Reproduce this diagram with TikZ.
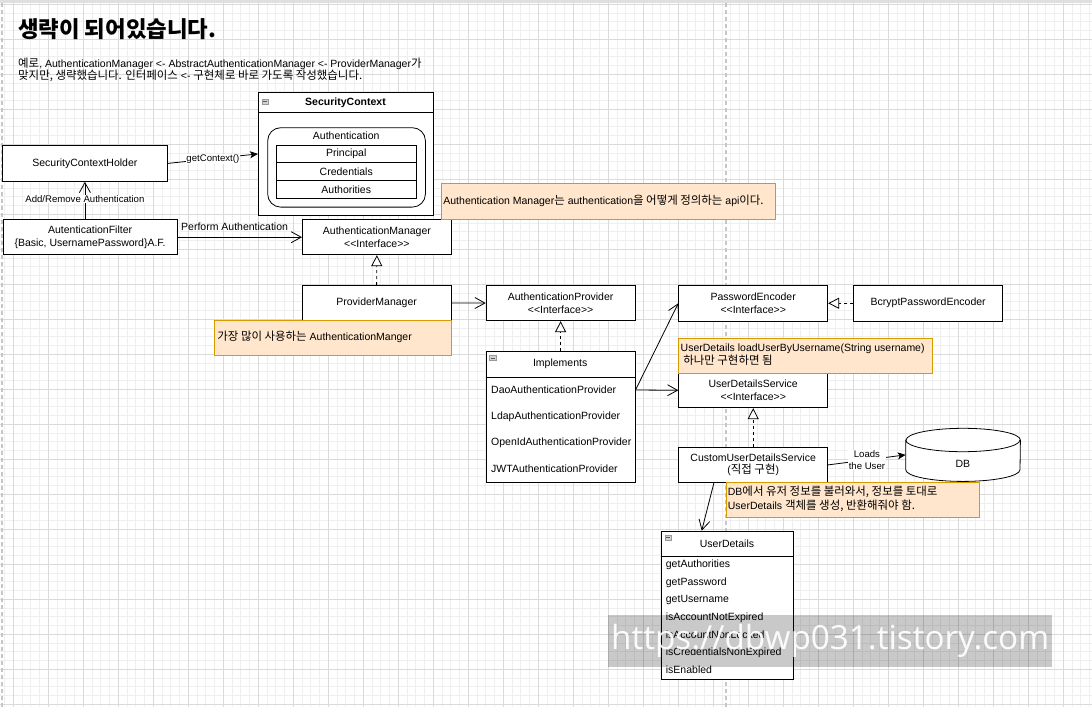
\documentclass[tikz,border=0pt]{standalone}
\usepackage{fontspec}
\newfontfamily\lsans{Liberation Sans}
\newfontfamily\kr{Noto Sans CJK KR}[Scale=1.09]
\newfontfamily\wmfont{Open Sans}
\usetikzlibrary{arrows.meta,calc}
\definecolor{gminor}{HTML}{EFEFEF}
\definecolor{gmajor}{HTML}{DADADA}
\definecolor{notefill}{HTML}{FFE6CC}
\definecolor{notedraw}{HTML}{D79B00}
\newcommand\lft[2]{\makebox[#1][l]{\begin{tabular}{@{}l@{}}#2\end{tabular}}}
\tikzset{
  box/.style={draw=black, fill=white, line width=0.8pt, inner sep=0pt, anchor=north west, align=center},
  notebox/.style={draw=notedraw, fill=notefill, line width=0.8pt, inner sep=0pt, anchor=north west},
  rowtxt/.style={anchor=west, inner sep=0pt},
  icon/.style={draw=gray!80, fill=gray!35, line width=0.4pt, minimum width=6.6pt, minimum height=5.4pt, inner sep=0pt,
    path picture={\draw[black!65, line width=0.6pt] ([xshift=1.3pt]path picture bounding box.west) -- ([xshift=-1.3pt]path picture bounding box.east);}},
  conn/.style={draw=black, line width=0.8pt},
  openarr/.style={conn, -{Straight Barb[length=10pt,width=11pt]}},
  fillarr/.style={conn, -{Stealth[length=8pt,width=7pt,inset=2pt]}},
  realize/.style={conn, dash pattern=on 3pt off 3pt, -{Triangle[length=11pt,width=11pt,fill=white,line width=0.8pt]}},
  lbl/.style={fill=white, inner sep=0.6pt, font=\lsans\fontsize{9.6}{11.6}\selectfont},
  pageline/.style={draw=gray!45, line width=1.4pt, dash pattern=on 4pt off 3pt},
}
\begin{document}
\begin{tikzpicture}[x=1pt, y=-1pt, font=\lsans\fontsize{10.5}{12.6}\selectfont]
\useasboundingbox (0,0) rectangle (1092,707);
% grid
\fill[white] (0,0) rectangle (1092,707);
\foreach \i in {0,...,124} \draw[gminor, line width=0.8pt] ({4.55+8.75*\i},0) -- ++(0,707);
\foreach \i in {0,...,80} \draw[gminor, line width=0.8pt] (0,{4.3+8.75*\i}) -- ++(1092,0);
\foreach \i in {0,...,31} \draw[gmajor, line width=0.8pt] ({13.3+35*\i},0) -- ++(0,707);
\foreach \i in {0,...,20} \draw[gmajor, line width=0.8pt] (0,{4.3+35*\i}) -- ++(1092,0);
\fill[gray!25] (0,0) rectangle (1092,3);
\draw[pageline] (2,3) -- (2,707);
\draw[pageline] (726,3) -- (726,707);

% title and subtitle
\node[anchor=west, inner sep=0pt, font=\kr\bfseries\fontsize{20.5}{24}\selectfont] (title) at (18,29) {생략이 되어있습니다.};
\node[anchor=west, inner sep=0pt, align=left] (subtitle) at (18,69.7)
  {{\kr 예로}, AuthenticationManager <- AbstractAuthenticationManager <- ProviderManager{\kr 가}\\
   {\kr 맞지만, 생략했습니다. 인터페이스} <- {\kr 구현체로 바로 가도록 작성했습니다.}};

% SecurityContext container
\node[box, minimum width=175pt, minimum height=123pt] (sc) at (258,92) {};
\draw[conn] ([yshift=-20.7pt]sc.north west) -- ([yshift=-20.7pt]sc.north east);
\node[font=\lsans\bfseries\fontsize{10.5}{12.6}\selectfont, inner sep=0pt] (sctitle) at (345.5,102.5) {SecurityContext};
\node[icon] (scicon) at (265,101.7) {};
\node[box, rounded corners=13pt, minimum width=157.7pt, minimum height=79.4pt] (auth) at (267.3,127.3) {};
\node[inner sep=0pt] (authlbl) at (346.2,136) {Authentication};
\node[box, minimum width=140.3pt, minimum height=17.3pt] (principal) at (275.7,145) {Principal};
\node[box, minimum width=140.3pt, minimum height=18pt] (credentials) at (275.7,162.3) {Credentials};
\node[box, minimum width=140.3pt, minimum height=17.4pt] (authorities) at (275.7,180.3) {Authorities};

% left column
\node[box, minimum width=165pt, minimum height=36pt] (sch) at (2,145) {SecurityContextHolder};
\node[box, minimum width=174pt, minimum height=35pt] (af) at (2.7,219.3) {AutenticationFilter\\\{Basic, UsernamePassword\}A.F.};

% managers
\node[box, minimum width=149pt, minimum height=35pt] (am) at (302,219.3) {AuthenticationManager\\<<Interface>>};
\node[box, minimum width=149pt, minimum height=35pt] (pm) at (301.7,285) {ProviderManager};
\node[box, minimum width=149pt, minimum height=35.3pt] (ap) at (485.7,285) {AuthenticationProvider\\<<Interface>>};

% Implements container
\node[box, minimum width=149pt, minimum height=131.3pt] (impl) at (485.7,350.7) {};
\draw[conn] ([yshift=-26.6pt]impl.north west) -- ([yshift=-26.6pt]impl.north east);
\node[inner sep=0pt] (impltitle) at (560.2,364) {Implements};
\node[icon] (implicon) at (492.8,357.8) {};
\node[rowtxt] (dao) at (491,390) {DaoAuthenticationProvider};
\node[rowtxt] (ldap) at (491,416.7) {LdapAuthenticationProvider};
\node[rowtxt] (openid) at (491,442.3) {OpenIdAuthenticationProvider};
\node[rowtxt] (jwt) at (491,468.3) {JWTAuthenticationProvider};

% right side
\node[box, minimum width=149pt, minimum height=35.7pt] (pe) at (678.3,285) {PasswordEncoder\\<<Interface>>};
\node[box, minimum width=149pt, minimum height=35.7pt] (bcrypt) at (853.3,285) {BcryptPasswordEncoder};
\node[box, minimum width=149pt, minimum height=34.8pt] (uds) at (678.3,372.5) {UserDetailsService\\<<Interface>>};
\node[box, minimum width=149pt, minimum height=34.4pt] (cuds) at (678.3,447.3) {CustomUserDetailsService\\({\kr 직접 구현})};

% DB cylinder
\node[minimum width=114.3pt, minimum height=52.7pt, inner sep=0pt, anchor=north west] (db) at (905.7,428.3) {};
\draw[conn, fill=white] ([yshift=-11.7pt]db.north west) -- ([yshift=11.7pt]db.south west)
  arc[start angle=180, end angle=360, x radius=57.15pt, y radius=11.7pt]
  -- ([yshift=-11.7pt]db.north east)
  arc[start angle=0, end angle=180, x radius=57.15pt, y radius=11.7pt] -- cycle;
\draw[conn] ([yshift=-11.7pt]db.north west) arc[start angle=180, end angle=360, x radius=57.15pt, y radius=11.7pt];
\node[inner sep=0pt] (dblbl) at (962.8,464.3) {DB};

% UserDetails container
\node[box, minimum width=132.6pt, minimum height=148.6pt] (ud) at (660.7,530.7) {};
\draw[conn] ([yshift=-25.6pt]ud.north west) -- ([yshift=-25.6pt]ud.north east);
\node[inner sep=0pt] (udtitle) at (727,543.5) {UserDetails};
\node[icon] (udicon) at (668,537.5) {};
\node[rowtxt] (r1) at (665.7,565) {getAuthorities};
\node[rowtxt] (r2) at (665.7,582.3) {getPassword};
\node[rowtxt] (r3) at (665.7,600) {getUsername};
\node[rowtxt] (r4) at (665.7,617.3) {isAccountNotExpired};
\node[rowtxt] (r5) at (665.7,635) {isAccountNonLocked};
\node[rowtxt] (r6) at (665.7,652.3) {isCredentialsNonExpired};
\node[rowtxt] (r7) at (665.7,670) {isEnabled};

% notes
\node[notebox, minimum width=334pt, minimum height=36pt] (note1) at (441,183)
  {\lft{330pt}{Authentication Manager{\kr 는} authentication{\kr 을 어떻게 정의하는} api{\kr 이다.}}};
\node[notebox, minimum width=236.4pt, minimum height=35.3pt] (note2) at (214.3,320)
  {\lft{231pt}{{\kr 가장 많이 사용하는} AuthenticationManger}};
\node[notebox, minimum width=254pt, minimum height=35pt] (note3) at (678.3,337.7)
  {\lft{250pt}{UserDetails loadUserByUsername(String username)\\\hspace*{2.6pt}{\kr 하나만 구현하면 됨}}};
\node[notebox, minimum width=253.6pt, minimum height=35pt] (note4) at (725.7,481.7)
  {\lft{250pt}{DB{\kr 에서 유저 정보를 불러와서, 정보를 토대로}\\UserDetails {\kr 객체를 생성, 반환해줘야 함.}}};

% connectors
\draw[fillarr] (sch.east) -- (sc.west) node[lbl, pos=0.5] (getctx) {getContext()};
\draw[openarr] (sch.south |- af.north) -- (sch.south) node[lbl, pos=0.54] (addrem) {Add/Remove Authentication};
\draw[openarr] (af.east) -- (am.west) node[pos=0, anchor=base west, xshift=3.3pt, yshift=6.3pt, inner sep=0pt] (perf) {Perform Authentication};
\draw[realize] (pm.north) -- (am.south);
\draw[openarr] (pm.east) -- (ap.west);
\draw[realize] (impl.north) -- (ap.south);
\draw[openarr] (dao -| impl.east) -- (pe.west);
\draw[openarr] (dao -| impl.east) -- (uds.west);
\draw[realize] (bcrypt.west) -- (pe.east);
\draw[realize] (cuds.north) -- (uds.south);
\draw[fillarr] (cuds.east) -- (db.west) node[lbl, pos=0.5, align=center] (loads) {Loads\\the User};
\draw[openarr] ([xshift=35.7pt]cuds.south west) -- ([xshift=41pt]ud.north west);

% watermark
\node[fill=black, fill opacity=0.21, text=white, text opacity=0.93, minimum width=444pt, minimum height=52pt, inner sep=0pt, anchor=north west] (wm) at (608,615)
  {\resizebox{438pt}{!}{\wmfont https://dbwp031.tistory.com}};
\end{tikzpicture}
\end{document}
